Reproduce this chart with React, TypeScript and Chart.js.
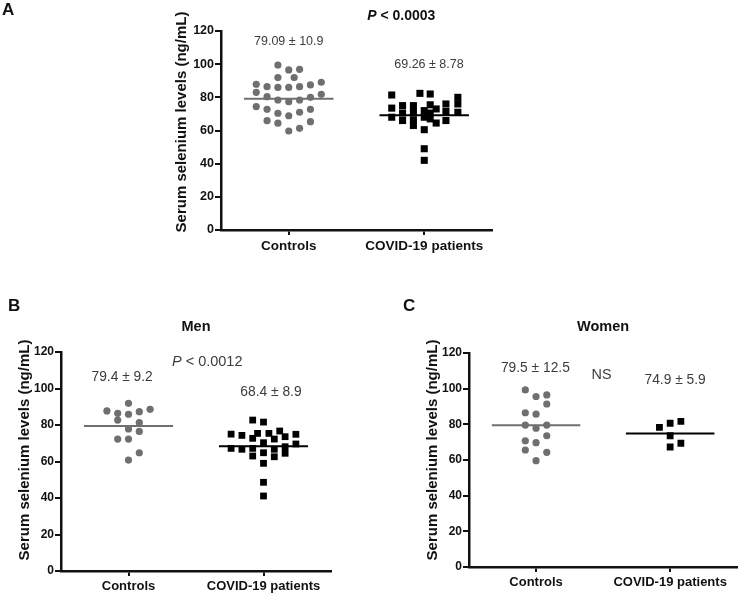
import React, { useEffect, useRef } from 'react';
import { Chart, registerables } from 'chart.js';

Chart.register(...registerables);

const FONT = "'Liberation Sans', Arial, Helvetica, sans-serif";
const W = 742;
const H = 595;

const categories = ['Controls', 'COVID-19 patients'];
const yTickValues = [0, 20, 40, 60, 80, 100, 120];
const JITTER = 0.08;
const MEAN_HALF = 0.33;

// Panel A
const aCtrlVals = [99.5, 96.5, 96.9, 91.9, 91.9, 87.9, 86.4, 86, 86, 86.4, 87.5, 89.1, 83, 81.8, 80.4, 78.4, 77.4, 78.4, 80, 74.4, 72.8, 70.4, 68.9, 71, 72.8, 65.9, 64.4, 65.3, 59.7, 61.3];
const aCtrlCols = [-1, 0, 1, -1, 0.5, -3, -2, -1, 0, 1, 2, 3, -3, 3, -2, -1, 0, 1, 2, -3, -2, -1, 0, 1, 2, -2, -1, 2, 0, 1];
const aCovVals = [81.4, 73.5, 68, 75, 70.5, 66, 75, 71, 66.5, 63, 82.4, 72, 68, 60.5, 49, 42, 82, 75.5, 70.5, 67, 73, 64.5, 76, 71.5, 66, 80, 76, 71];
const aCovCols = [-3, -3, -3, -2, -2, -2, -1, -1, -1, -1, -0.4, 0, 0, 0, 0, 0, 0.55, 0.55, 0.55, 0.55, 1.1, 1.1, 2, 2, 2, 3.1, 3.1, 3.1];
const aMeans = [79.09, 69.26];
const aStats = ['79.09 \u00B1 10.9', '69.26 \u00B1 8.78'];

// Panel B (Men)
const bCtrlVals = [91.9, 87.7, 86.4, 85.9, 87.3, 88.6, 82.7, 81.3, 77.8, 76.5, 72.3, 72.3, 64.8, 60.8];
const bCtrlCols = [0, -2, -1, 0, 1, 2, -1, 1, 0, 1, -1, 0, 1, 0];
const bCovVals = [82.7, 81.6, 75, 74.3, 76.7, 74.9, 75.4, 75.4, 72.7, 72.3, 73.6, 70.3, 69.6, 67.2, 66.7, 67.2, 63, 64.8, 66.7, 62.6, 68.1, 64.5, 59, 48.6, 41.1];
const bCovCols = [-1, 0, -3, -2, 1.5, 3, -0.55, 0.5, -1, 1, 2, 0, 3, -3, -2, -1, -1, 0, 1, 1, 2, 2, 0, 0, 0];
const bMeans = [79.4, 68.4];
const bStats = ['79.4 \u00B1 9.2', '68.4 \u00B1 8.9'];

// Panel C (Women)
const cCtrlVals = [99.3, 95.6, 96.5, 91.4, 86.5, 85.7, 79.6, 79.6, 77.8, 73.6, 70.8, 69.7, 65.6, 64.3, 59.6];
const cCtrlCols = [-1, 0, 1, 1, -1, 0, -1, 1, 0, 1, -1, 0, -1, 1, 0];
const cCovVals = [78.3, 80.6, 81.7, 73.6, 67.3, 69.4];
const cCovCols = [-1, 0, 1, 0, 0, 1];
const cMeans = [79.5, 74.9];
const cStats = ['79.5 \u00B1 12.5', '74.9 \u00B1 5.9'];

const Y_TITLE = 'Serum selenium levels (ng/mL)';
const GRAY = '#6f6f6f';
const AXIS = '#111111';
const TEXT_GRAY = '#3c3c3c';

type Part = { text: string; style?: string };
type Label = { parts: Part[]; x: number; y: number; size: number; color: string; weight?: string };

type PanelSpec = {
  area: { left: number; top: number; right: number; bottom: number };
  tickSize: number;
  catSize: number;
  ctrlVals: number[];
  ctrlCols: number[];
  covVals: number[];
  covCols: number[];
  means: number[];
  labels: Label[];
  yTitle: { x: number; y: number; size: number };
  letter: { text: string; x: number; y: number };
  dotR: number;
  sqR: number;
};

const Y_W = 30;
const X_H = 26;

function drawParts(ctx: CanvasRenderingContext2D, parts: Part[], cx: number, cy: number, size: number, color: string, weight: string) {
  const fonts = parts.map((p) => `${p.style || ''} ${weight} ${size}px ${FONT}`.trim());
  let total = 0;
  const widths = parts.map((p, i) => {
    ctx.font = fonts[i];
    const w = ctx.measureText(p.text).width;
    total += w;
    return w;
  });
  let x = cx - total / 2;
  ctx.fillStyle = color;
  ctx.textBaseline = 'middle';
  ctx.textAlign = 'left';
  parts.forEach((p, i) => {
    ctx.font = fonts[i];
    ctx.fillText(p.text, x, cy);
    x += widths[i];
  });
}

function makeConfig(spec: PanelSpec): any {
  const { area } = spec;
  const annot = {
    id: 'annot',
    afterDraw(chart: any) {
      const ctx = chart.ctx as CanvasRenderingContext2D;
      const xs = chart.scales.x;
      const ys = chart.scales.y;
      ctx.save();
      spec.labels.forEach((l) => {
        drawParts(ctx, l.parts, xs.getPixelForValue(l.x), ys.getPixelForValue(l.y), l.size, l.color, l.weight || 'normal');
      });
      ctx.save();
      ctx.translate(spec.yTitle.x, spec.yTitle.y);
      ctx.rotate(-Math.PI / 2);
      ctx.font = `bold ${spec.yTitle.size}px ${FONT}`;
      ctx.fillStyle = '#111';
      ctx.textAlign = 'center';
      ctx.textBaseline = 'middle';
      ctx.fillText(Y_TITLE, 0, 0);
      ctx.restore();
      ctx.font = `bold 17px ${FONT}`;
      ctx.fillStyle = '#111';
      ctx.textAlign = 'left';
      ctx.textBaseline = 'top';
      ctx.fillText(spec.letter.text, spec.letter.x, spec.letter.y);
      ctx.restore();
    },
  };

  return {
    type: 'scatter',
    data: {
      datasets: [
        {
          type: 'line',
          data: [
            { x: 1 - MEAN_HALF, y: spec.means[0] },
            { x: 1 + MEAN_HALF, y: spec.means[0] },
          ],
          borderColor: GRAY,
          borderWidth: 2,
          pointRadius: 0,
          fill: false,
        },
        {
          type: 'line',
          data: [
            { x: 2 - MEAN_HALF, y: spec.means[1] },
            { x: 2 + MEAN_HALF, y: spec.means[1] },
          ],
          borderColor: '#000',
          borderWidth: 2,
          pointRadius: 0,
          fill: false,
        },
        {
          data: spec.ctrlVals.map((v, i) => ({ x: 1 + spec.ctrlCols[i] * JITTER, y: v })),
          pointStyle: 'circle',
          pointRadius: spec.dotR,
          backgroundColor: GRAY,
          borderWidth: 0,
        },
        {
          data: spec.covVals.map((v, i) => ({ x: 2 + spec.covCols[i] * JITTER, y: v })),
          pointStyle: 'rect',
          pointRadius: spec.sqR,
          backgroundColor: '#000',
          borderWidth: 0,
        },
      ],
    },
    options: {
      animation: false,
      responsive: false,
      devicePixelRatio: 1,
      events: [],
      layout: {
        padding: {
          left: area.left - Y_W,
          top: area.top,
          right: W - area.right,
          bottom: H - area.bottom - X_H,
        },
      },
      plugins: { legend: { display: false }, tooltip: { enabled: false }, title: { display: false } },
      scales: {
        x: {
          type: 'linear',
          min: 0.5,
          max: 2.5,
          afterFit: (s: any) => {
            s.height = X_H;
          },
          afterBuildTicks: (s: any) => {
            s.ticks = [{ value: 1 }, { value: 2 }];
          },
          ticks: {
            autoSkip: false,
            maxRotation: 0,
            padding: 3,
            color: '#111',
            font: { family: FONT, size: spec.catSize, weight: 'bold' },
            callback: (v: number) => categories[Math.round(v) - 1],
          },
          grid: { display: true, drawOnChartArea: false, drawTicks: true, tickLength: 5, color: AXIS, lineWidth: 2 },
          border: { display: true, color: AXIS, width: 2.5 },
        },
        y: {
          type: 'linear',
          min: 0,
          max: 120,
          afterFit: (s: any) => {
            s.width = Y_W;
          },
          afterBuildTicks: (s: any) => {
            s.ticks = yTickValues.map((v) => ({ value: v }));
          },
          ticks: {
            padding: 1,
            color: '#111',
            font: { family: FONT, size: spec.tickSize, weight: 'bold' },
          },
          grid: { display: true, drawOnChartArea: false, drawTicks: true, tickLength: 6, color: AXIS, lineWidth: 2 },
          border: { display: true, color: AXIS, width: 2.5 },
        },
      },
    },
    plugins: [annot],
  };
}

const panels: PanelSpec[] = [
  {
    area: { left: 221, top: 31, right: 492, bottom: 230 },
    tickSize: 12.5,
    catSize: 13.5,
    ctrlVals: aCtrlVals,
    ctrlCols: aCtrlCols,
    covVals: aCovVals,
    covCols: aCovCols,
    means: aMeans,
    dotR: 3.6,
    sqR: 5,
    labels: [
      { parts: [{ text: aStats[0] }], x: 1, y: 113.4, size: 12.5, color: TEXT_GRAY },
      { parts: [{ text: aStats[1] }], x: 2.035, y: 99.5, size: 12.5, color: TEXT_GRAY },
      { parts: [{ text: 'P', style: 'italic' }, { text: ' < 0.0003' }], x: 1.83, y: 129, size: 14, color: '#111', weight: 'bold' },
    ],
    yTitle: { x: 182, y: 122, size: 15 },
    letter: { text: 'A', x: 2, y: 2 },
  },
  {
    area: { left: 61, top: 352, right: 331, bottom: 571 },
    tickSize: 12,
    catSize: 13,
    ctrlVals: bCtrlVals,
    ctrlCols: bCtrlCols,
    covVals: bCovVals,
    covCols: bCovCols,
    means: bMeans,
    dotR: 3.6,
    sqR: 4.8,
    labels: [
      { parts: [{ text: 'Men' }], x: 1.5, y: 133.7, size: 14.5, color: '#111', weight: 'bold' },
      { parts: [{ text: bStats[0] }], x: 0.953, y: 106.3, size: 13.8, color: TEXT_GRAY },
      { parts: [{ text: 'P', style: 'italic' }, { text: ' < 0.0012' }], x: 1.583, y: 114.5, size: 14.5, color: TEXT_GRAY },
      { parts: [{ text: bStats[1] }], x: 2.055, y: 98.2, size: 13.8, color: TEXT_GRAY },
    ],
    yTitle: { x: 25, y: 450, size: 15 },
    letter: { text: 'B', x: 8, y: 298 },
  },
  {
    area: { left: 469, top: 353, right: 738, bottom: 567 },
    tickSize: 12,
    catSize: 13,
    ctrlVals: cCtrlVals,
    ctrlCols: cCtrlCols,
    covVals: cCovVals,
    covCols: cCovCols,
    means: cMeans,
    dotR: 3.6,
    sqR: 4.8,
    labels: [
      { parts: [{ text: 'Women' }], x: 1.5, y: 134.6, size: 14.5, color: '#111', weight: 'bold' },
      { parts: [{ text: cStats[0] }], x: 0.995, y: 111.6, size: 13.8, color: TEXT_GRAY },
      { parts: [{ text: 'NS' }], x: 1.488, y: 107.7, size: 14.4, color: TEXT_GRAY },
      { parts: [{ text: cStats[1] }], x: 2.037, y: 104.5, size: 13.8, color: TEXT_GRAY },
    ],
    yTitle: { x: 433, y: 450, size: 15 },
    letter: { text: 'C', x: 403, y: 298 },
  },
];

function Panel({ spec }: { spec: PanelSpec }) {
  const ref = useRef<HTMLCanvasElement | null>(null);
  useEffect(() => {
    if (!ref.current) return;
    const chart = new Chart(ref.current, makeConfig(spec));
    return () => chart.destroy();
  }, [spec]);
  return (
    <canvas
      ref={ref}
      width={W}
      height={H}
      style={{ position: 'absolute', left: 0, top: 0, width: W, height: H }}
    />
  );
}

export default function App() {
  return (
    <div style={{ position: 'fixed', left: 0, top: 0, width: W, height: H, background: '#fff', overflow: 'hidden' }}>
      {panels.map((p, i) => (
        <Panel key={i} spec={p} />
      ))}
    </div>
  );
}
